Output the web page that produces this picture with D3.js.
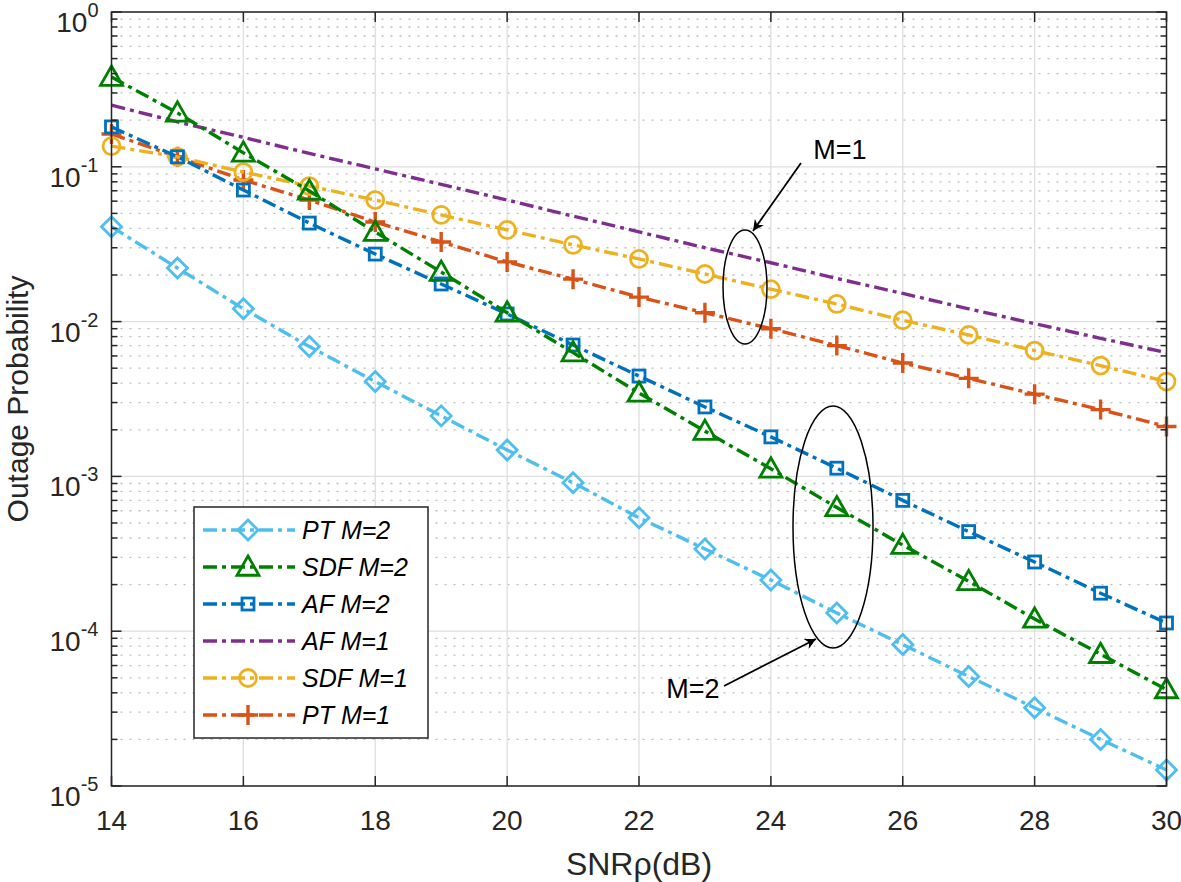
<!DOCTYPE html>
<html>
<head>
<meta charset="utf-8">
<script src="https://cdn.jsdelivr.net/npm/d3@7"></script>
<style>
  body { margin: 0; background: #fff; }
  svg text { font-family: Arial, "Liberation Sans", sans-serif; fill: #262626; }
</style>
</head>
<body>
<svg id="chart" width="1181" height="882"></svg>
<script>
// SNR values (dB)
const snr = [14, 15, 16, 17, 18, 19, 20, 21, 22, 23, 24, 25, 26, 27, 28, 29, 30];

// outage probability per scheme
const ptM2 = [0.041, 0.0222, 0.0121, 0.0069, 0.0041, 0.00246, 0.00148, 9.1e-4, 5.4e-4, 3.4e-4, 2.14e-4, 1.31e-4, 8.2e-5, 5.1e-5, 3.2e-5, 2.0e-5, 1.27e-5];
const sdfM2 = [0.38, 0.223, 0.123, 0.0698, 0.0379, 0.0209, 0.0114, 0.0063, 0.00346, 0.00196, 0.00112, 6.3e-4, 3.6e-4, 2.1e-4, 1.2e-4, 7.1e-5, 4.2e-5];
const afM2 = [0.181, 0.116, 0.0708, 0.0433, 0.0273, 0.0175, 0.0112, 0.00706, 0.00445, 0.00281, 0.0018, 0.00113, 7.0e-4, 4.4e-4, 2.8e-4, 1.76e-4, 1.13e-4];
const afM1 = [0.25, 0.195, 0.155, 0.122, 0.097, 0.077, 0.061, 0.048, 0.038, 0.030, 0.024, 0.019, 0.0152, 0.0121, 0.0097, 0.0078, 0.0063];
const sdfM1 = [0.136, 0.116, 0.0925, 0.0751, 0.061, 0.0489, 0.0391, 0.0313, 0.0254, 0.0203, 0.0162, 0.013, 0.0102, 0.0082, 0.0065, 0.0052, 0.0041];
const ptM1 = [0.163, 0.116, 0.0822, 0.061, 0.044, 0.0327, 0.0243, 0.0188, 0.0144, 0.0114, 0.009, 0.007, 0.0054, 0.0043, 0.0034, 0.0027, 0.0021];

const xTicks = [14, 16, 18, 20, 22, 24, 26, 28, 30];
const yExps = [0, -1, -2, -3, -4, -5];

const series = [
  { name: 'PT M=2', values: ptM2, color: '#4DBEEE', marker: 'diamond' },
  { name: 'SDF M=2', values: sdfM2, color: '#008000', marker: 'triangle' },
  { name: 'AF M=2', values: afM2, color: '#0072BD', marker: 'square' },
  { name: 'AF M=1', values: afM1, color: '#7E2F8E', marker: 'none' },
  { name: 'SDF M=1', values: sdfM1, color: '#EDB120', marker: 'circle' },
  { name: 'PT M=1', values: ptM1, color: '#D95319', marker: 'plus' }
];

const svg = d3.select('#chart');
const pLeft = 111.5, pRight = 1166.5, pTop = 12, pBottom = 786;

const x = d3.scaleLinear().domain([14, 30]).range([pLeft, pRight]);
const y = d3.scaleLog().domain([1e-5, 1]).range([pBottom, pTop]);

// grid
const grid = svg.append('g');
// minor y grid (dotted)
yExps.slice(0, -1).forEach(e => {
  for (let k = 2; k <= 9; k++) {
    const v = k * Math.pow(10, e - 1);
    grid.append('line')
      .attr('x1', pLeft).attr('x2', pRight)
      .attr('y1', y(v)).attr('y2', y(v))
      .attr('stroke', '#bdbdbd').attr('stroke-width', 1.3)
      .attr('stroke-dasharray', '2,7');
  }
});
// major grid
yExps.forEach(e => {
  grid.append('line')
    .attr('x1', pLeft).attr('x2', pRight)
    .attr('y1', y(Math.pow(10, e))).attr('y2', y(Math.pow(10, e)))
    .attr('stroke', '#dedede').attr('stroke-width', 1.3);
});
xTicks.forEach(t => {
  grid.append('line')
    .attr('x1', x(t)).attr('x2', x(t))
    .attr('y1', pTop).attr('y2', pBottom)
    .attr('stroke', '#dedede').attr('stroke-width', 1.3);
});

// lines
const line = d3.line()
  .x((d, i) => x(snr[i]))
  .y(d => y(d));

function drawMarker(g, type, cx, cy, color) {
  const sw = 2.8;
  if (type === 'diamond') {
    const r = 10;
    g.append('path').attr('d', `M${cx},${cy - r}L${cx + r},${cy}L${cx},${cy + r}L${cx - r},${cy}Z`)
      .attr('fill', 'none').attr('stroke', color).attr('stroke-width', sw);
  } else if (type === 'triangle') {
    const r = 11;
    g.append('path').attr('d', `M${cx},${cy - r}L${cx + r},${cy + r * 0.75}L${cx - r},${cy + r * 0.75}Z`)
      .attr('fill', 'none').attr('stroke', color).attr('stroke-width', sw);
  } else if (type === 'square') {
    const r = 6;
    g.append('rect').attr('x', cx - r).attr('y', cy - r).attr('width', 2 * r).attr('height', 2 * r)
      .attr('fill', 'none').attr('stroke', color).attr('stroke-width', sw);
  } else if (type === 'circle') {
    g.append('circle').attr('cx', cx).attr('cy', cy).attr('r', 8.5)
      .attr('fill', 'none').attr('stroke', color).attr('stroke-width', sw);
  } else if (type === 'plus') {
    const r = 10;
    g.append('path').attr('d', `M${cx - r},${cy}H${cx + r}M${cx},${cy - r}V${cy + r}`)
      .attr('fill', 'none').attr('stroke', color).attr('stroke-width', 3.4);
  }
}

const plot = svg.append('g');
// draw in reverse order so PT M=2 ends up on top
series.slice().reverse().forEach(s => {
  const g = plot.append('g');
  g.append('path')
    .datum(s.values)
    .attr('d', line)
    .attr('fill', 'none')
    .attr('stroke', s.color)
    .attr('stroke-width', 3.4)
    .attr('stroke-dasharray', '14,5,4,5');
  if (s.marker !== 'none') {
    s.values.forEach((v, i) => drawMarker(g, s.marker, x(snr[i]), y(v), s.color));
  }
});

// axes box
const axes = svg.append('g');
axes.append('rect')
  .attr('x', pLeft).attr('y', pTop)
  .attr('width', pRight - pLeft).attr('height', pBottom - pTop)
  .attr('fill', 'none').attr('stroke', '#262626').attr('stroke-width', 1.5);

// ticks
xTicks.forEach(t => {
  axes.append('line').attr('x1', x(t)).attr('x2', x(t)).attr('y1', pBottom).attr('y2', pBottom - 10)
    .attr('stroke', '#262626').attr('stroke-width', 1.5);
  axes.append('line').attr('x1', x(t)).attr('x2', x(t)).attr('y1', pTop).attr('y2', pTop + 10)
    .attr('stroke', '#262626').attr('stroke-width', 1.5);
  axes.append('text')
    .attr('x', x(t)).attr('y', 830)
    .attr('text-anchor', 'middle')
    .attr('font-size', 28)
    .text(t);
});
yExps.forEach(e => {
  const v = Math.pow(10, e);
  [[pLeft, pLeft + 10], [pRight, pRight - 10]].forEach(([a, b]) => {
    axes.append('line').attr('x1', a).attr('x2', b).attr('y1', y(v)).attr('y2', y(v))
      .attr('stroke', '#262626').attr('stroke-width', 1.5);
  });
  if (e > -5) {
    for (let k = 2; k <= 9; k++) {
      const m = k * Math.pow(10, e - 1);
      [[pLeft, pLeft + 6], [pRight, pRight - 6]].forEach(([a, b]) => {
        axes.append('line').attr('x1', a).attr('x2', b).attr('y1', y(m)).attr('y2', y(m))
          .attr('stroke', '#262626').attr('stroke-width', 1.5);
      });
    }
  }
  const lab = axes.append('text')
    .attr('x', pLeft - 13).attr('y', y(v) + 20)
    .attr('text-anchor', 'end')
    .attr('font-size', 28);
  lab.append('tspan').text('10');
  lab.append('tspan').attr('dy', -15).attr('font-size', 20).text(e);
});

// axis labels
svg.append('text')
  .attr('x', (pLeft + pRight) / 2).attr('y', 875)
  .attr('text-anchor', 'middle')
  .attr('font-size', 32)
  .text('SNRρ(dB)');
svg.append('text')
  .attr('transform', `translate(28,${(pTop + pBottom) / 2}) rotate(-90)`)
  .attr('text-anchor', 'middle')
  .attr('font-size', 30)
  .text('Outage Probability');

// annotations: ellipses and arrows
svg.append('defs').append('marker')
  .attr('id', 'arrowhead')
  .attr('viewBox', '0 0 10 10')
  .attr('refX', 10).attr('refY', 5)
  .attr('markerWidth', 16).attr('markerHeight', 11)
  .attr('markerUnits', 'userSpaceOnUse')
  .attr('orient', 'auto')
  .append('path').attr('d', 'M0,0L10,5L0,10L3,5Z').attr('fill', '#000');

const ann = svg.append('g');
ann.append('ellipse').attr('cx', 745).attr('cy', 287).attr('rx', 22).attr('ry', 57)
  .attr('fill', 'none').attr('stroke', '#000').attr('stroke-width', 1.5);
ann.append('line').attr('x1', 801).attr('y1', 163).attr('x2', 753).attr('y2', 231)
  .attr('stroke', '#000').attr('stroke-width', 1.8).attr('marker-end', 'url(#arrowhead)');
ann.append('text').attr('x', 840).attr('y', 159).attr('text-anchor', 'middle')
  .attr('font-size', 27).style('fill', '#000').text('M=1');

ann.append('ellipse').attr('cx', 833).attr('cy', 527).attr('rx', 40).attr('ry', 121)
  .attr('fill', 'none').attr('stroke', '#000').attr('stroke-width', 1.5);
ann.append('line').attr('x1', 724).attr('y1', 686).attr('x2', 816).attr('y2', 639)
  .attr('stroke', '#000').attr('stroke-width', 1.8).attr('marker-end', 'url(#arrowhead)');
ann.append('text').attr('x', 693).attr('y', 698).attr('text-anchor', 'middle')
  .attr('font-size', 27).style('fill', '#000').text('M=2');

// legend
const lg = svg.append('g');
const lgX = 194, lgY = 507, lgW = 234, lgH = 231;
lg.append('rect').attr('x', lgX).attr('y', lgY).attr('width', lgW).attr('height', lgH)
  .attr('fill', '#fff').attr('stroke', '#262626').attr('stroke-width', 1.5);
series.forEach((s, i) => {
  const cy = lgY + 23 + i * 37;
  lg.append('line').attr('x1', 203).attr('x2', 295).attr('y1', cy).attr('y2', cy)
    .attr('stroke', s.color).attr('stroke-width', 3.4).attr('stroke-dasharray', '14,5,4,5');
  if (s.marker !== 'none') drawMarker(lg, s.marker, 248, cy, s.color);
  lg.append('text').attr('x', 302).attr('y', cy + 9)
    .attr('font-size', 25).attr('font-style', 'italic').style('fill', '#000')
    .text(s.name);
});
</script>
</body>
</html>
